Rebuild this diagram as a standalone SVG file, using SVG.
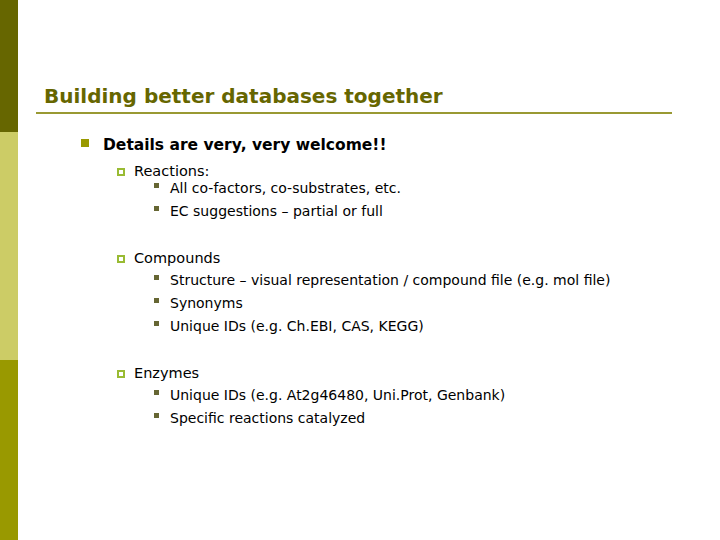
<svg xmlns="http://www.w3.org/2000/svg" width="720" height="540" viewBox="0 0 720 540">
<style>
text{font-family:"DejaVu Sans",Verdana,sans-serif;fill:#000}
.t2{font-size:14.5px}.t3{font-size:14px}
.b2{fill:#fff;stroke:#99bb33;stroke-width:2}
.b3{fill:#666633}
</style>
<rect width="720" height="540" fill="#fff"/>
<rect x="0" y="0" width="18" height="132" fill="#666600"/>
<rect x="0" y="132" width="18" height="228" fill="#cccc66"/>
<rect x="0" y="360" width="18" height="180" fill="#999900"/>
<text x="44" y="103" style="font-size:20px;font-weight:bold;fill:#666600">Building better databases together</text>
<rect x="36" y="112" width="636" height="2" fill="#999933"/>
<rect x="81" y="139" width="8" height="8" fill="#999900"/>
<text x="103" y="150" style="font-size:15.5px;font-weight:bold">Details are very, very welcome!!</text>
<rect x="118" y="169" width="6" height="6" class="b2"/>
<text x="134" y="176" class="t2">Reactions:</text>
<rect x="154" y="183" width="5" height="5" class="b3"/>
<text x="170" y="193" class="t3">All co-factors, co-substrates, etc.</text>
<rect x="154" y="206" width="5" height="5" class="b3"/>
<text x="170" y="216" class="t3">EC suggestions – partial or full</text>
<rect x="118" y="256" width="6" height="6" class="b2"/>
<text x="134" y="263" class="t2">Compounds</text>
<rect x="154" y="275" width="5" height="5" class="b3"/>
<text x="170" y="285" class="t3">Structure – visual representation / compound file (e.g. mol file)</text>
<rect x="154" y="298" width="5" height="5" class="b3"/>
<text x="170" y="308" class="t3">Synonyms</text>
<rect x="154" y="321" width="5" height="5" class="b3"/>
<text x="170" y="331" class="t3">Unique IDs (e.g. Ch.EBI, CAS, KEGG)</text>
<rect x="118" y="371" width="6" height="6" class="b2"/>
<text x="134" y="378" class="t2">Enzymes</text>
<rect x="154" y="390" width="5" height="5" class="b3"/>
<text x="170" y="400" class="t3">Unique IDs (e.g. At2g46480, Uni.Prot, Genbank)</text>
<rect x="154" y="413" width="5" height="5" class="b3"/>
<text x="170" y="423" class="t3">Specific reactions catalyzed</text>
</svg>
